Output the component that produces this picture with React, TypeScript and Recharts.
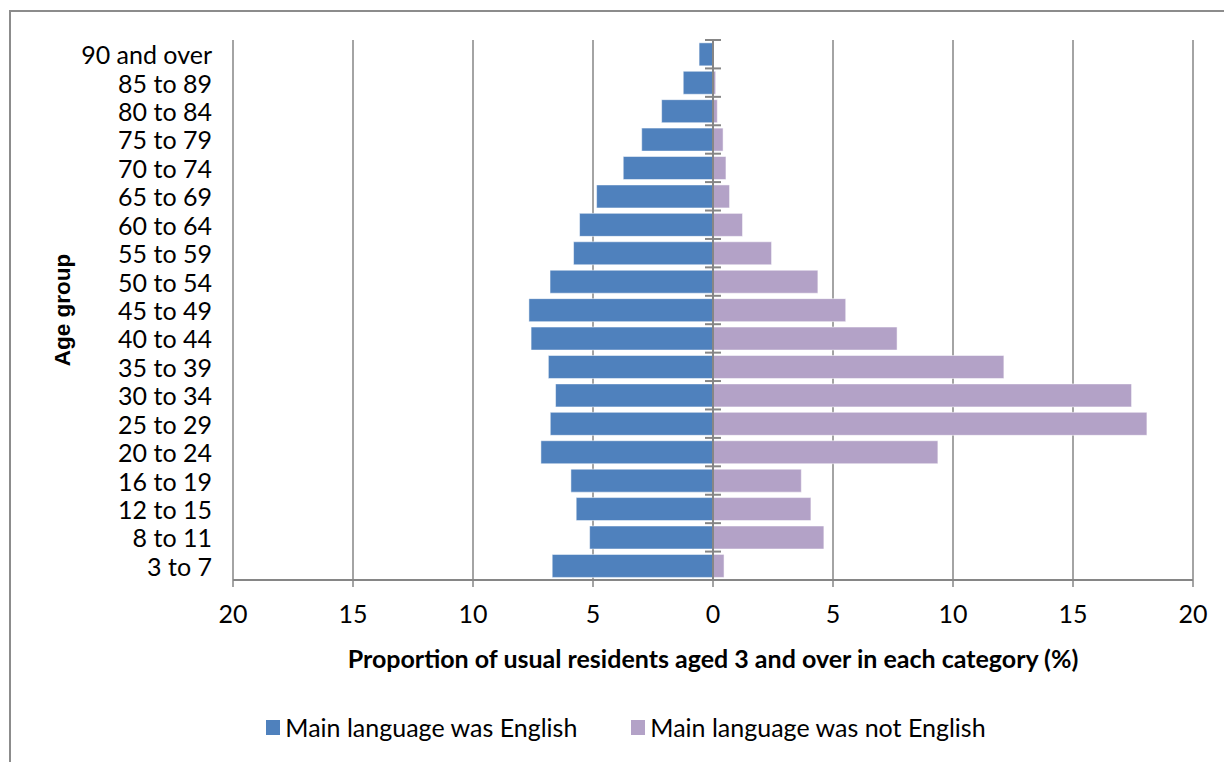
import {
  BarChart,
  Bar,
  XAxis,
  YAxis,
  CartesianGrid,
  ReferenceLine,
  Legend,
} from "recharts";

// top to bottom, as in the pyramid
const ageGroups = [
  "90 and over",
  "85 to 89",
  "80 to 84",
  "75 to 79",
  "70 to 74",
  "65 to 69",
  "60 to 64",
  "55 to 59",
  "50 to 54",
  "45 to 49",
  "40 to 44",
  "35 to 39",
  "30 to 34",
  "25 to 29",
  "20 to 24",
  "16 to 19",
  "12 to 15",
  "8 to 11",
  "3 to 7",
];

const english = [
  0.58, 1.24, 2.14, 2.97, 3.74, 4.85, 5.56, 5.81, 6.79, 7.67, 7.58, 6.86,
  6.56, 6.78, 7.17, 5.92, 5.7, 5.14, 6.7,
];

const notEnglish = [
  0.02, 0.11, 0.18, 0.42, 0.54, 0.69, 1.23, 2.44, 4.37, 5.53, 7.67, 12.12,
  17.44, 18.08, 9.37, 3.68, 4.08, 4.62, 0.46,
];

const xTicks = [-20, -15, -10, -5, 0, 5, 10, 15, 20];

const seriesNames = ["Main language was English", "Main language was not English"];
const seriesColors = ["#4F81BD", "#B3A2C7"];

const W = 1224;
const H = 762;
const AXIS_W = 233;
const MARGIN = { top: 40, right: 31, left: 0, bottom: 20 };
const PLOT_W = W - AXIS_W - MARGIN.right;
const PLOT_H = 540;
const ZERO_X = AXIS_W + PLOT_W / 2;
const FONT = "Lato, 'Open Sans', sans-serif";
const GRID = "#868686";

const data = ageGroups.map((group, i) => ({
  group,
  english: -english[i],
  notEnglish: notEnglish[i],
}));

const CategoryTick = (props: any) => {
  const { x, y, payload, index } = props;
  const band = PLOT_H / ageGroups.length;
  return (
    <g>
      <text
        x={x}
        y={y}
        textAnchor="end"
        dominantBaseline="central"
        fontFamily={FONT}
        fontSize={25}
        fill="#000"
      >
        {payload.value}
      </text>
      <line
        x1={ZERO_X - 8}
        x2={ZERO_X + 8}
        y1={y + band / 2}
        y2={y + band / 2}
        stroke={GRID}
        strokeWidth={2}
      />
      {index === 0 && (
        <line
          x1={ZERO_X - 8}
          x2={ZERO_X + 8}
          y1={y - band / 2}
          y2={y - band / 2}
          stroke={GRID}
          strokeWidth={2}
        />
      )}
    </g>
  );
};

const xTitle = (props: any) => {
  const vb = props.viewBox;
  return (
    <text
      x={vb.x + vb.width / 2}
      y={vb.y + 78}
      textAnchor="middle"
      dominantBaseline="central"
      fontFamily={FONT}
      fontWeight="bold"
      fontSize={25}
      fill="#000"
    >
      Proportion of usual residents aged 3 and over in each category (%)
    </text>
  );
};

const yTitle = (props: any) => {
  const vb = props.viewBox;
  const cy = vb.y + vb.height / 2;
  return (
    <text
      x={62}
      y={cy}
      transform={`rotate(-90, 62, ${cy})`}
      textAnchor="middle"
      dominantBaseline="central"
      fontFamily="'Liberation Sans', Arial, sans-serif"
      fontWeight="bold"
      fontSize={22.5}
      fill="#000"
    >
      Age group
    </text>
  );
};

const LegendContent = () => (
  <div
    style={{
      display: "flex",
      justifyContent: "center",
      gap: 54,
      height: 30,
      alignItems: "center",
      paddingLeft: 28,
      fontFamily: FONT,
      fontSize: 25,
      color: "#000",
    }}
  >
    {seriesNames.map((name, i) => (
      <div key={name} style={{ display: "flex", alignItems: "center" }}>
        <span
          style={{
            display: "inline-block",
            width: 14,
            height: 15,
            background: seriesColors[i],
            marginRight: 5,
          }}
        />
        {name}
      </div>
    ))}
  </div>
);

export default function App() {
  return (
    <div style={{ position: "absolute", left: 0, top: 0, width: W, height: H, background: "#fff" }}>
      <div
        style={{
          position: "absolute",
          left: 9,
          top: 10,
          width: W,
          height: H,
          borderTop: "2px solid #8c8c8c",
          borderLeft: "2px solid #8c8c8c",
        }}
      />
      <BarChart
        width={W}
        height={H}
        data={data}
        layout="vertical"
        stackOffset="sign"
        barCategoryGap="10%"
        margin={MARGIN}
      >
        <CartesianGrid horizontal={false} stroke={GRID} strokeWidth={1.5} />
        <XAxis
          type="number"
          domain={[-20, 20]}
          ticks={xTicks}
          tickFormatter={(v: number) => `${Math.abs(v)}`}
          height={132}
          axisLine={{ stroke: GRID, strokeWidth: 2 }}
          tickLine={{ stroke: GRID, strokeWidth: 1.5 }}
          tickSize={7}
          tickMargin={18}
          tick={{ fill: "#000", fontFamily: FONT, fontSize: 25 }}
          label={xTitle}
        />
        <YAxis
          type="category"
          dataKey="group"
          width={AXIS_W}
          axisLine={false}
          tickLine={false}
          tickSize={6}
          tickMargin={15}
          interval={0}
          tick={<CategoryTick />}
          label={yTitle}
        />
        <Legend
          verticalAlign="bottom"
          content={<LegendContent />}
          wrapperStyle={{ left: 0, width: W }}
        />
        <Bar
          dataKey="english"
          name={seriesNames[0]}
          stackId="a"
          fill={seriesColors[0]}
          stroke="#ffffff"
          strokeOpacity={0.5}
          isAnimationActive={false}
        />
        <Bar
          dataKey="notEnglish"
          name={seriesNames[1]}
          stackId="a"
          fill={seriesColors[1]}
          stroke="#ffffff"
          strokeOpacity={0.5}
          isAnimationActive={false}
        />
        <ReferenceLine x={0} stroke={GRID} strokeWidth={2} />
      </BarChart>
    </div>
  );
}
